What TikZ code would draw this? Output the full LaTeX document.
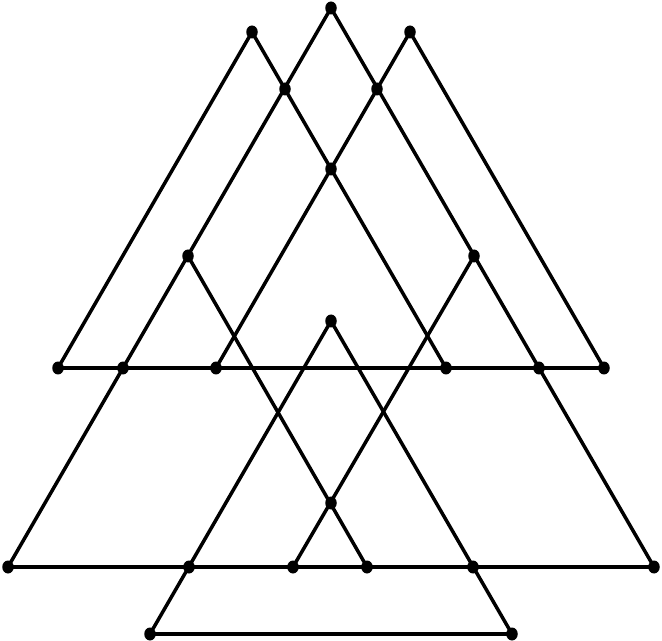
\documentclass[tikz,border=0pt]{standalone}
\usetikzlibrary{shapes.geometric}
\begin{document}
\begin{tikzpicture}[x=0.02cm,y=-0.02cm]
\tikzstyle{dot}=[ellipse, fill=black, inner sep=0pt, minimum width=2.3mm, minimum height=2.6mm]
\tikzstyle{connect}=[line width=0.7mm]

\useasboundingbox (0,0) rectangle (662,641);

% apexes and crossings at the top
\node[dot] at (331,8) (top) {};
\node[dot] at (252,32) (apexA) {};
\node[dot] at (410,32) (apexB) {};
\node[dot] at (285,89) (xAC) {};
\node[dot] at (377,89) (xBC) {};
\node[dot] at (331,169) (xAB) {};
\node[dot] at (188,256) (midL) {};
\node[dot] at (474,256) (midR) {};
\node[dot] at (331,321) (apexD) {};
% first row
\node[dot] at (58,368) (baseAl) {};
\node[dot] at (123,368) (xCl) {};
\node[dot] at (216,368) (baseBl) {};
\node[dot] at (446,368) (baseAr) {};
\node[dot] at (539,368) (xCr) {};
\node[dot] at (604,368) (baseBr) {};
\node[dot] at (331,503) (low) {};
% second row
\node[dot] at (8,567) (baseCl) {};
\node[dot] at (189,567) (xDl) {};
\node[dot] at (293,567) (innL) {};
\node[dot] at (367,567) (innR) {};
\node[dot] at (473,567) (xDr) {};
\node[dot] at (654,567) (baseCr) {};
% bottom row
\node[dot] at (150,634) (baseDl) {};
\node[dot] at (512,634) (baseDr) {};

\path (apexA.center) edge [connect] (baseAl.center);
\path (apexA.center) edge [connect] (baseAr.center);
\path (apexB.center) edge [connect] (baseBr.center);
\path (apexB.center) edge [connect] (baseBl.center);
\path (top.center) edge [connect] (baseCl.center);
\path (top.center) edge [connect] (baseCr.center);
\path (apexD.center) edge [connect] (baseDl.center);
\path (apexD.center) edge [connect] (baseDr.center);
\path (midL.center) edge [connect] (innR.center);
\path (midR.center) edge [connect] (innL.center);
\path (baseAl.center) edge [connect] (baseBr.center);
\path (baseCl.center) edge [connect] (baseCr.center);
\path (baseDl.center) edge [connect] (baseDr.center);
\end{tikzpicture}
\end{document}
